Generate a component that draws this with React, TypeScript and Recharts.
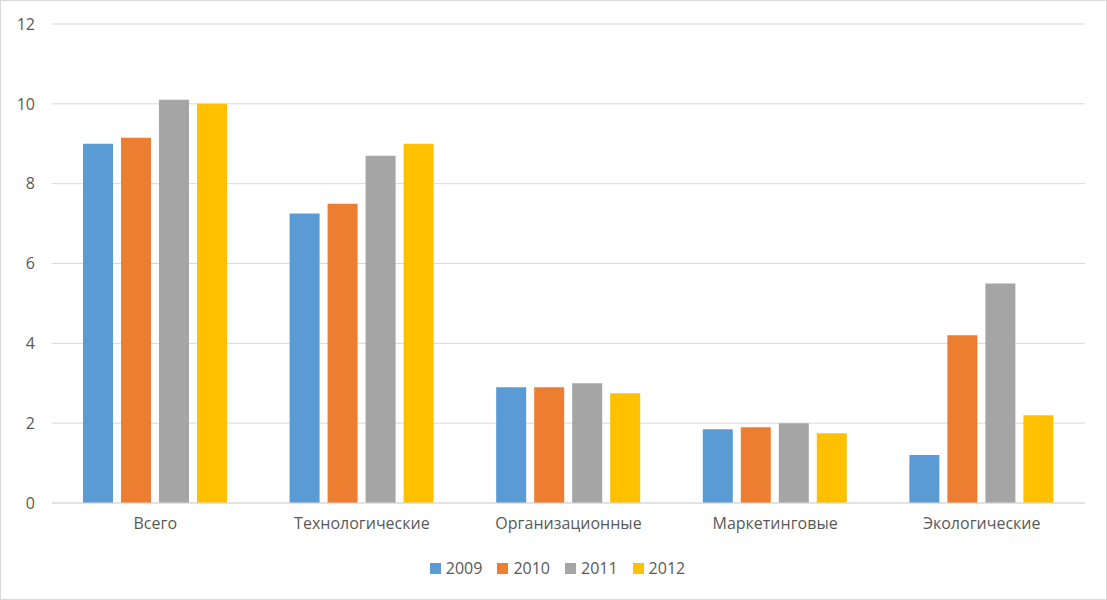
import React from "react";
import { BarChart, Bar, XAxis, YAxis, CartesianGrid, Legend } from "recharts";

const categories = ["Всего", "Технологические", "Организационные", "Маркетинговые", "Экологические"];
const s2009 = [9.0, 7.25, 2.9, 1.85, 1.2];
const s2010 = [9.15, 7.5, 2.9, 1.9, 4.2];
const s2011 = [10.1, 8.7, 3.0, 2.0, 5.5];
const s2012 = [10.0, 9.0, 2.75, 1.75, 2.2];
const yTicks = [0, 2, 4, 6, 8, 10, 12];
const seriesNames = ["2009", "2010", "2011", "2012"];
const seriesColors = ["#5B9BD5", "#ED7D31", "#A5A5A5", "#FFC000"];

const data = categories.map((c, i) => ({
  name: c,
  "2009": s2009[i],
  "2010": s2010[i],
  "2011": s2011[i],
  "2012": s2012[i],
}));

const FONT = "'Open Sans', 'DejaVu Sans', sans-serif";
const TEXT = "#595959";

const LegendContent = () => (
  <div
    style={{
      display: "flex",
      justifyContent: "center",
      alignItems: "center",
      paddingLeft: 8,
      height: 24,
      fontFamily: FONT,
      fontSize: 16,
      color: TEXT,
    }}
  >
    {seriesNames.map((n, i) => (
      <div
        key={n}
        style={{
          display: "flex",
          alignItems: "center",
          marginRight: i < seriesNames.length - 1 ? 15 : 0,
        }}
      >
        <span
          style={{
            display: "inline-block",
            width: 11,
            height: 11,
            background: seriesColors[i],
            marginRight: 5,
          }}
        />
        <span style={{ lineHeight: "24px" }}>{n}</span>
      </div>
    ))}
  </div>
);

export default function App() {
  return (
    <div
      style={{
        position: "absolute",
        left: 0,
        top: 0,
        width: 1107,
        height: 600,
        background: "#fff",
        border: "1px solid #d9d9d9",
        boxSizing: "border-box",
        overflow: "hidden",
      }}
    >
      <div style={{ position: "absolute", left: -1, top: -1 }}>
        <BarChart
          width={1107}
          height={600}
          data={data}
          margin={{ top: 24, right: 22, left: 0, bottom: 43 }}
          barCategoryGap="15%"
          barGap={8}
        >
          <CartesianGrid vertical={false} stroke="#d9d9d9" strokeWidth={1} />
          <XAxis
            dataKey="name"
            height={30}
            tickLine={false}
            tickSize={0}
            tickMargin={15}
            axisLine={{ stroke: "#d9d9d9" }}
            tick={{ fill: TEXT, fontSize: 16, fontFamily: FONT }}
            interval={0}
          />
          <YAxis
            width={52}
            domain={[0, 12]}
            ticks={yTicks}
            axisLine={false}
            tickLine={false}
            tickSize={0}
            tickMargin={17}
            tick={{ fill: TEXT, fontSize: 16, fontFamily: FONT }}
          />
          <Legend
            verticalAlign="bottom"
            content={<LegendContent />}
            wrapperStyle={{ top: 556, left: 0, width: 1107, height: 24 }}
          />
          {seriesNames.map((n, i) => (
            <Bar key={n} dataKey={n} fill={seriesColors[i]} isAnimationActive={false} />
          ))}
        </BarChart>
      </div>
    </div>
  );
}
